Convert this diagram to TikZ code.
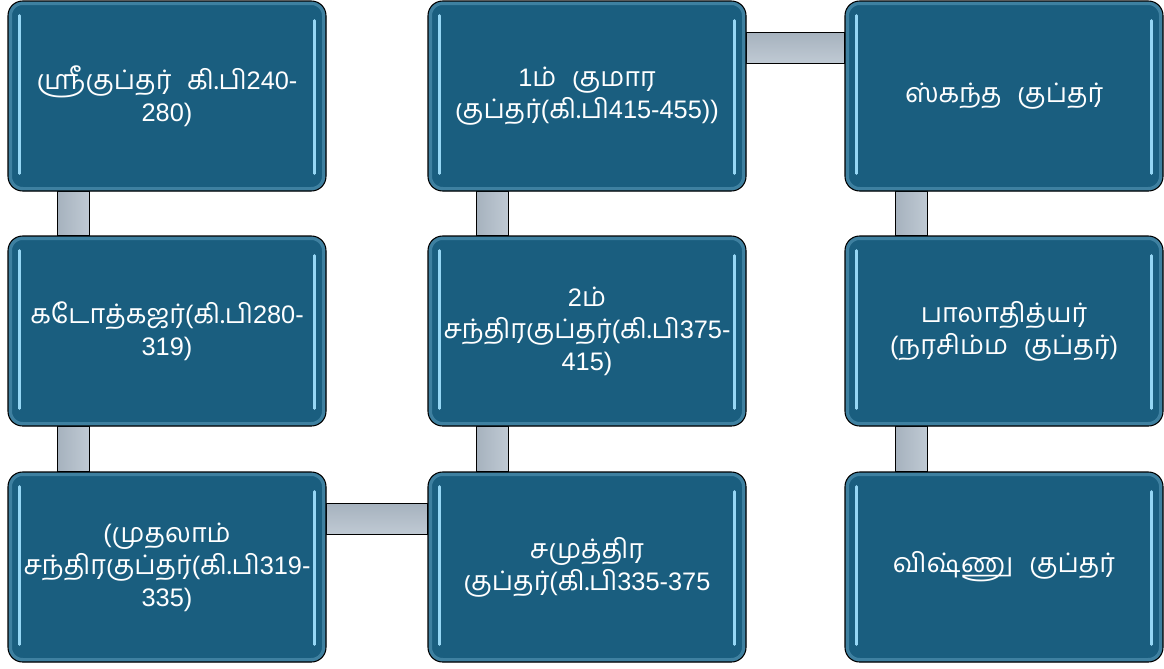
\documentclass[tikz,border=0pt]{standalone}
\usepackage{fontspec}
\setmainfont{Liberation Sans}
\newfontfamily\tamilfont[Script=Tamil, Scale=1.06, WordSpace=2.4]{Hind Madurai}
\newcommand{\ta}[1]{{\tamilfont #1}}
\usetikzlibrary{backgrounds}

\definecolor{boxblue}{RGB}{26,94,127}
\definecolor{boxrim}{RGB}{62,128,160}
\definecolor{glintblue}{RGB}{150,215,245}
\definecolor{barlo}{RGB}{166,178,190}
\definecolor{barhi}{RGB}{192,202,212}

\tikzset{
	gbox/.style={draw=black, line width=0.8pt, rounded corners=11pt, fill=boxblue,
		text=white, align=center, font=\fontsize{19}{24}\selectfont,
		minimum width=238.5pt, minimum height=142.5pt, inner sep=0pt,
		path picture={\draw[boxrim, line width=6pt, rounded corners=11pt] (path picture bounding box.south west) rectangle (path picture bounding box.north east);}},
	glint/.style={draw=glintblue, line width=2pt, line cap=round},
	vbar/.style={draw=black, line width=1.2pt, left color=barlo, right color=barhi},
	hbar/.style={draw=black, line width=1.2pt, top color=barlo, bottom color=barhi}
}

\begin{document}
\begin{tikzpicture}[x=0.75pt,y=0.75pt,yscale=-1,xscale=1]
		\useasboundingbox (0,0) rectangle (1164,668);
		
		%Shape: Rounded Rect [id:sri] 
		\node[gbox] (sri) at (167,96) {\ta{ஸ்ரீகுப்தர் கி.பி}240-\\280)};
		%Shape: Rounded Rect [id:ghat] 
		\node[gbox] (ghat) at (167,331) {\ta{கடோத்கஜர்}(\ta{கி.பி}280-\\319)};
		%Shape: Rounded Rect [id:chan1] 
		\node[gbox] (chan1) at (167,567) {(\ta{முதலாம்}\\\ta{சந்திரகுப்தர்}(\ta{கி.பி}319-\\335)};
		%Shape: Rounded Rect [id:samu] 
		\node[gbox] (samu) at (587,567) {\ta{சமுத்திர}\\\ta{குப்தர்}(\ta{கி.பி}335-375};
		%Shape: Rounded Rect [id:chan2] 
		\node[gbox] (chan2) at (587,331) {2\ta{ம்}\\\ta{சந்திரகுப்தர்}(\ta{கி.பி}375-\\415)};
		%Shape: Rounded Rect [id:kum1] 
		\node[gbox] (kum1) at (587,96) {1\ta{ம் குமார}\\\ta{குப்தர்}(\ta{கி.பி}415-455))};
		%Shape: Rounded Rect [id:skan] 
		\node[gbox] (skan) at (1004,96) {\ta{ஸ்கந்த குப்தர்}};
		%Shape: Rounded Rect [id:bala] 
		\node[gbox] (bala) at (1004,331) {\ta{பாலாதித்யர்}\\(\ta{நரசிம்ம குப்தர்})};
		%Shape: Rounded Rect [id:vish] 
		\node[gbox] (vish) at (1004,567) {\ta{விஷ்ணு குப்தர்}};
		
		%Straight Lines (glints)
		\foreach \b in {sri,ghat,chan1,samu,chan2,kum1,skan,bala,vish} {
			\draw[glint] ([shift={(12,15)}]\b.north west) -- ([shift={(12,-18)}]\b.south west) ;
			\draw[glint] ([shift={(-12,20)}]\b.north east) -- ([shift={(-12,-18)}]\b.south east) ;
		}
		
		\begin{pgfonlayer}{background}
		%Shape: Bar 
		\draw[vbar] ([shift={(50,0)}]sri.south west) rectangle ([shift={(82,0)}]ghat.north west) ;
		%Shape: Bar 
		\draw[vbar] ([shift={(50,0)}]ghat.south west) rectangle ([shift={(82,0)}]chan1.north west) ;
		%Shape: Bar 
		\draw[hbar] ([shift={(0,32)}]chan1.north east) rectangle ([shift={(0,63)}]samu.north west) ;
		%Shape: Bar 
		\draw[vbar] ([shift={(49,0)}]chan2.south west) rectangle ([shift={(81,0)}]samu.north west) ;
		%Shape: Bar 
		\draw[vbar] ([shift={(49,0)}]kum1.south west) rectangle ([shift={(81,0)}]chan2.north west) ;
		%Shape: Bar 
		\draw[hbar] ([shift={(0,32)}]kum1.north east) rectangle ([shift={(0,63)}]skan.north west) ;
		%Shape: Bar 
		\draw[vbar] ([shift={(51,0)}]skan.south west) rectangle ([shift={(83,0)}]bala.north west) ;
		%Shape: Bar 
		\draw[vbar] ([shift={(51,0)}]bala.south west) rectangle ([shift={(83,0)}]vish.north west) ;
		\end{pgfonlayer}
		
\end{tikzpicture}
\end{document}
